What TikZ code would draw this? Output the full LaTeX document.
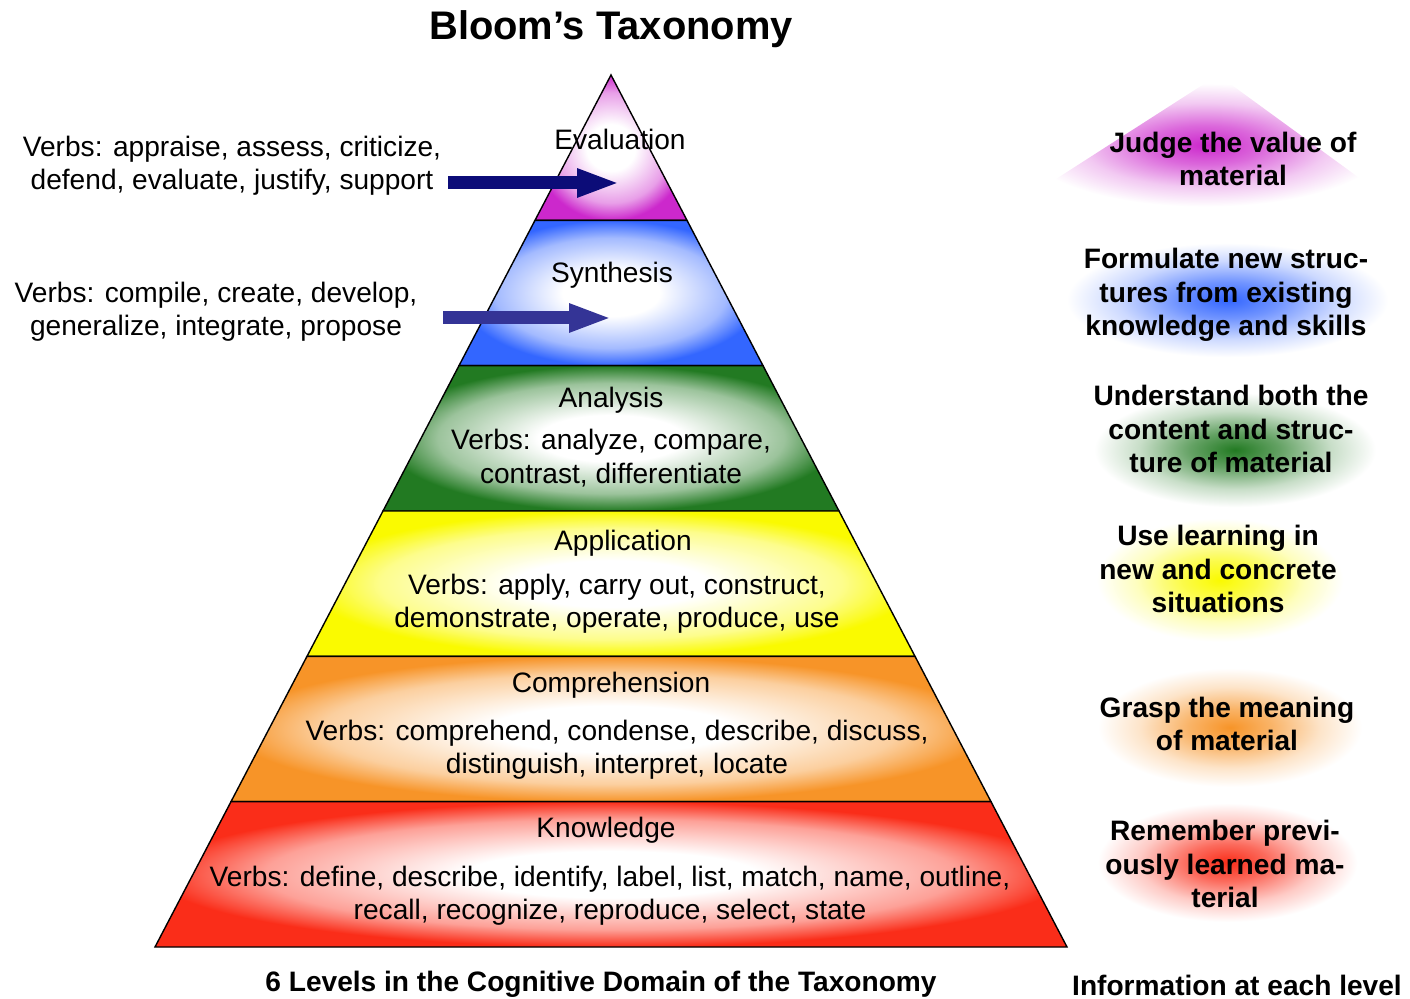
\documentclass[tikz,border=0pt]{standalone}
\usepackage{fontspec}
\setmainfont{Liberation Sans}
\usetikzlibrary{positioning, calc, arrows.meta}

\definecolor{evalcol}{RGB}{204,40,204}
\definecolor{syncol}{RGB}{51,102,255}
\definecolor{anacol}{RGB}{34,122,34}
\definecolor{appcol}{RGB}{250,250,0}
\definecolor{compcol}{RGB}{247,148,40}
\definecolor{knowcol}{RGB}{250,45,25}
\definecolor{arrowdark}{RGB}{12,12,120}
\definecolor{arrowlight}{RGB}{52,52,150}
\colorlet{pyrcol}{white}
\colorlet{blobcol}{white}

\pgfdeclareradialshading[pyrcol]{glow}{\pgfpoint{0bp}{0bp}}{color(0bp)=(white); color(8bp)=(white); color(19bp)=(pyrcol!45!white); color(25bp)=(pyrcol); color(50bp)=(pyrcol)}
\pgfdeclareradialshading[blobcol]{blob}{\pgfpoint{0bp}{0bp}}{color(0bp)=(blobcol); color(7bp)=(blobcol!70!white); color(15bp)=(blobcol!25!white); color(22bp)=(white); color(50bp)=(white)}

\tikzset{
band/.style={shade, shading=glow, /utils/exec={\colorlet{pyrcol}{#1}}, draw=black, line width=0.8pt}, % one level of the pyramid
glowblob/.style={shade, shading=blob, /utils/exec={\colorlet{blobcol}{#1}}}, % soft patch behind the notes
level/.style={font=\fontsize{16}{19}\selectfont, align=center, inner sep=1pt}, % plain text
note/.style={font=\bfseries\fontsize{16}{19}\selectfont, align=center, inner sep=1pt}, % bold text on the right
title/.style={font=\bfseries\fontsize{22.7}{27}\selectfont, inner sep=1pt},
blockarrow/.style={draw=#1, line width=0.26cm, -{Triangle[length=0.86cm, width=0.52cm]}}, % fat arrow into the pyramid
}

\begin{document}
\begin{tikzpicture}[x=0.02cm, y=-0.02cm]
\useasboundingbox (0,0) rectangle (1410,999);

\coordinate (apex) at (611,75);
\coordinate (bl) at (155,947);
\coordinate (br) at (1067,947);
\foreach \i/\col in {1/evalcol, 2/syncol, 3/anacol, 4/appcol, 5/compcol, 6/knowcol}
    \path[band=\col] ($(apex)!{(\i-1)/6}!(bl)$) -- ($(apex)!{\i/6}!(bl)$) -- ($(apex)!{\i/6}!(br)$) -- ($(apex)!{(\i-1)/6}!(br)$) -- cycle;

\path[glowblob=evalcol] (1218,75) -- (1410,215) -- (1000,215) -- cycle;
\path[glowblob=syncol] (1045,235) rectangle (1410,365);
\path[glowblob=anacol] (1075,385) rectangle (1395,515);
\path[glowblob=appcol] (1080,510) rectangle (1360,650);
\path[glowblob=compcol] (1080,660) rectangle (1380,795);
\path[glowblob=knowcol] (1080,795) rectangle (1375,930);

\node[title] (title) at (611,29) {Bloom’s Taxonomy};

\node[level] (evaluation) at (620,139) {Evaluation};
\node[level] (synthesis) at (612,275) {Synthesis};
\node[level] (analysis) at (611,400) {Analysis};
\node[level] (anaverbs) at (611,458) {Verbs: analyze, compare,\\contrast, differentiate};
\node[level] (application) at (623,543) {Application};
\node[level] (appverbs) at (617,604) {Verbs: apply, carry out, construct,\\demonstrate, operate, produce, use};
\node[level] (comprehension) at (611,685) {Comprehension};
\node[level] (compverbs) at (617,750) {Verbs: comprehend, condense, describe, discuss,\\distinguish, interpret, locate};
\node[level] (knowledge) at (606,830) {Knowledge};
\node[level] (knowverbs) at (610,896) {Verbs: define, describe, identify, label, list, match, name, outline,\\recall, recognize, reproduce, select, state};

\node[level] (evalverbs) at (232,166) {Verbs: appraise, assess, criticize,\\defend, evaluate, justify, support};
\node[level] (synverbs) at (216,312) {Verbs: compile, create, develop,\\generalize, integrate, propose};
\coordinate (evaltail) at (448,183);
\coordinate (evalhead) at (620,183);
\coordinate (syntail) at (443,318);
\coordinate (synhead) at (612,318);
\draw[blockarrow=arrowdark] (evaltail) -- (evalhead);
\draw[blockarrow=arrowlight] (syntail) -- (synhead);

\node[note] (evalnote) at (1233,159) {Judge the value of\\material};
\node[note] (synnote) at (1226,295) {Formulate new struc-\\tures from existing\\knowledge and skills};
\node[note] (ananote) at (1231,429) {Understand both the\\content and struc-\\ture of material};
\node[note] (appnote) at (1218,569) {Use learning in\\new and concrete\\situations};
\node[note] (compnote) at (1227,724) {Grasp the meaning\\of material};
\node[note] (knownote) at (1225,864) {Remember previ-\\ously learned ma-\\terial};

\node[note] (levelscaption) at (601,984) {6 Levels in the Cognitive Domain of the Taxonomy};
\node[note] (infocaption) at (1237,985) {Information at each level};
\end{tikzpicture}
\end{document}
